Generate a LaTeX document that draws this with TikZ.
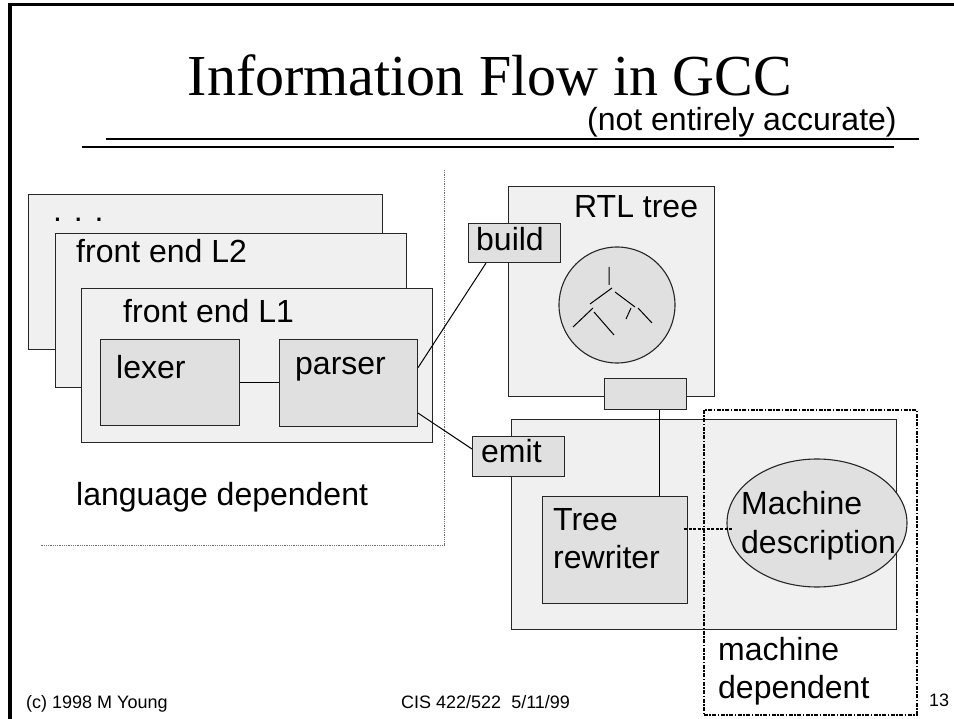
\documentclass[tikz,border=0pt]{standalone}
\usepackage{fontspec}
\setmainfont{Liberation Serif}
\newfontfamily\arialf{Liberation Sans}
\usetikzlibrary{shapes.geometric,calc}
\begin{document}
\begin{tikzpicture}[x=1pt,y=-1pt,
  obox/.style={draw=black!85,line width=1.1pt,fill=black!6,inner sep=0pt,anchor=north west},
  ibox/.style={draw=black!85,line width=1.1pt,fill=black!12,inner sep=0pt,anchor=north west},
  lbl/.style={inner sep=0pt,anchor=base west,font=\arialf\fontsize{32}{36}\selectfont},
  foot/.style={inner sep=0pt,anchor=base west,font=\arialf\fontsize{18}{20}\selectfont},
  conn/.style={draw=black,line width=1pt},
  region/.style={draw=black!55,densely dotted,line width=0.8pt},
  dashdot/.style={draw=black,line width=1.6pt,dash pattern=on 4pt off 1.5pt on 1.5pt off 1.5pt,inner sep=0pt,anchor=north west},
  dashconn/.style={draw=black,line width=2pt,dash pattern=on 3pt off 1.5pt},
  rule/.style={draw=black,line width=2pt},
]
\useasboundingbox (0,0) rectangle (954,719);
% slide frame
\draw[line width=3.5pt,line join=miter] (10,719) -- (10,4.5) -- (954,4.5);
% title
\node[inner sep=0pt,anchor=base,font=\fontsize{58}{64}\selectfont] (title) at (490,96) {Information Flow in GCC};
\node[inner sep=0pt,anchor=base west,font=\arialf\fontsize{32}{36}\selectfont] (sub) at (587,131) {(not entirely accurate)};
\draw[rule] (106,139) -- (919,139);
\draw[rule] (82,147) -- (894,147);
% language dependent region
\draw[region] (444,170) -- (444,545) -- (40,545);
% front ends
\node[obox,minimum width=354pt,minimum height=155pt] (back) at (28,194) {};
\node[lbl] (dots) at (53,222) {. . .};
\node[obox,minimum width=351pt,minimum height=154pt] (fe2) at (55,233) {};
\node[lbl] (fe2t) at (76,263) {front end L2};
\node[obox,minimum width=351pt,minimum height=154pt] (fe1) at (81,288) {};
\node[lbl] (fe1t) at (123,323) {front end L1};
\node[ibox,minimum width=139pt,minimum height=86pt] (lexer) at (100,339) {};
\node[lbl] (lexert) at (116,379) {lexer};
\node[ibox,minimum width=138pt,minimum height=87pt] (parser) at (279,339) {};
\node[lbl] (parsert) at (295,375) {parser};
\draw[conn] (lexer.east) -- (lexer.east -| parser.west);
\node[lbl] (langdep) at (76,505) {language dependent};
% RTL tree
\node[obox,minimum width=206pt,minimum height=210pt] (rtl) at (508,186) {};
\node[lbl] (rtlt) at (574,218) {RTL tree};
\node[ibox,minimum width=92pt,minimum height=39pt] (build) at (468,223) {};
\node[lbl] (buildt) at (476,251) {build};
\node[circle,draw=black!85,line width=1.1pt,fill=black!12,minimum size=116pt,inner sep=0pt] (tree) at (617,305) {};
\draw[line width=1pt] (609,267) -- (609,285)
  (612,288) -- (590,304)
  (615,292) -- (635,307)
  (593,308) -- (573,327)
  (594,312) -- (614,335)
  (631,308) -- (626,319)
  (638,308) -- (652,323);
\node[ibox,minimum width=82pt,minimum height=31pt] (small) at (604,378) {};
% back end
\node[obox,minimum width=385pt,minimum height=210pt] (lower) at (511,419) {};
\node[ibox,minimum width=92pt,minimum height=40pt] (emit) at (472,436) {};
\node[lbl] (emitt) at (481,462) {emit};
\node[ibox,minimum width=145pt,minimum height=107pt] (rewriter) at (542,496) {};
\node[lbl] (rw1) at (553,530) {Tree};
\node[lbl] (rw2) at (553,568) {rewriter};
\node[dashdot,minimum width=213pt,minimum height=305pt] (mdbox) at (703,409) {};
\node[ellipse,draw=black!85,line width=1.1pt,fill=black!12,minimum width=180pt,minimum height=128pt,inner sep=0pt] (md) at (817,523) {};
\node[lbl] (md1) at (741,514) {Machine};
\node[lbl] (md2) at (741,553) {description};
\node[lbl] (mach1) at (718,660) {machine};
\node[lbl] (mach2) at (718,698) {dependent};
% connectors
\draw[conn] ([yshift=15.5pt]parser.east) -- ([xshift=18pt]build.south west);
\draw[conn] ([yshift=14pt]parser.south east) -- ([yshift=-13pt]emit.north west);
\draw[conn] ([xshift=14pt]small.south) -- ([xshift=14pt]small.south |- rewriter.north);
\draw[dashconn] ([yshift=21.5pt,xshift=-4pt]rewriter.east) -- ([yshift=21.5pt,xshift=6pt]rewriter.east -| md.west);
% footer
\node[foot] (f1) at (26,708) {(c) 1998 M Young};
\node[foot] (f2) at (401,708) {CIS 422/522\ \ 5/11/99};
\node[foot] (f3) at (929,706) {13};
\end{tikzpicture}
\end{document}
